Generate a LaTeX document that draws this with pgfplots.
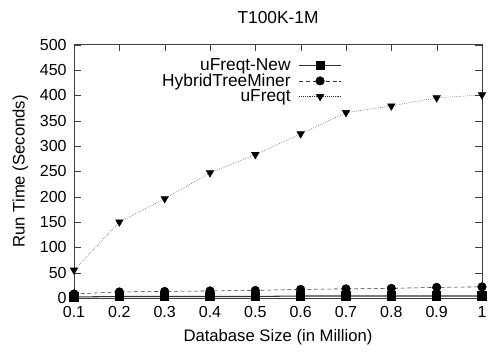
\documentclass[border=0pt]{standalone}
\usepackage{pgfplots}
\pgfplotsset{compat=1.18}
\usepackage{fontspec}
\setmainfont{Liberation Sans}
\begin{document}
\begin{tikzpicture}
\useasboundingbox (-55.5pt,-45pt) rectangle (319.5pt,223.5pt);
\begin{axis}[
  at={(0,0)}, anchor=south west,
  scale only axis,
  width=306pt, height=190pt,
  xmin=0.1, xmax=1, ymin=0, ymax=500,
  xtick={0.1,0.2,0.3,0.4,0.5,0.6,0.7,0.8,0.9,1},
  xticklabels={0.1,0.2,0.3,0.4,0.5,0.6,0.7,0.8,0.9,1},
  ytick={0,50,...,500},
  tick align=inside,
  major tick length=5pt,
  axis line style={black!75},
  tick style={black!75},
  /pgf/number format/assume math mode=true,
  tick label style={font=\fontsize{12}{14}\selectfont},
  label style={font=\fontsize{12.5}{14}\selectfont},
  title style={font=\fontsize{13}{15}\selectfont, yshift=6pt},
  xticklabel style={yshift=-3pt},
  yticklabel style={xshift=-2pt},
  title={T100K-1M},
  xlabel={Database Size (in Million)},
  ylabel={Run Time (Seconds)},
  xlabel style={yshift=-2pt},
  ylabel style={yshift=2pt},
  legend style={draw=none, fill=none, at={(0.666,0.968)}, anchor=north east,
    font=\fontsize{13}{14}\selectfont, row sep=-3pt,
    cells={anchor=east}, column sep=4pt},
  legend plot pos=right,
  legend image code/.code={
    \draw[mark repeat=2,mark phase=2,#1] plot coordinates {(0cm,0cm) (0.55cm,0cm) (1.1cm,0cm)};
  },
]
\addplot[black!80, solid, line width=0.8pt, mark=square*, mark size=3pt, mark options={solid, black}] coordinates {
(0.1,2)(0.2,3)(0.3,3)(0.4,3)(0.5,3)(0.6,4)(0.7,4)(0.8,4)(0.9,4)(1,4)};
\addlegendentry{uFreqt-New}
\addplot[black!80, densely dashed, mark=*, mark size=3.2pt, mark options={solid, black}] coordinates {
(0.1,8)(0.2,12)(0.3,13)(0.4,14)(0.5,15)(0.6,17)(0.7,18)(0.8,19)(0.9,21)(1,22)};
\addlegendentry{HybridTreeMiner}
\addplot[black!80, densely dotted, mark=triangle*, mark size=3.2pt, mark options={solid, black, rotate=180}] coordinates {
(0.1,55)(0.2,150)(0.3,196)(0.4,247)(0.5,283)(0.6,324)(0.7,366)(0.8,379)(0.9,395)(1,401)};
\addlegendentry{uFreqt}
\end{axis}
\end{tikzpicture}
\end{document}
